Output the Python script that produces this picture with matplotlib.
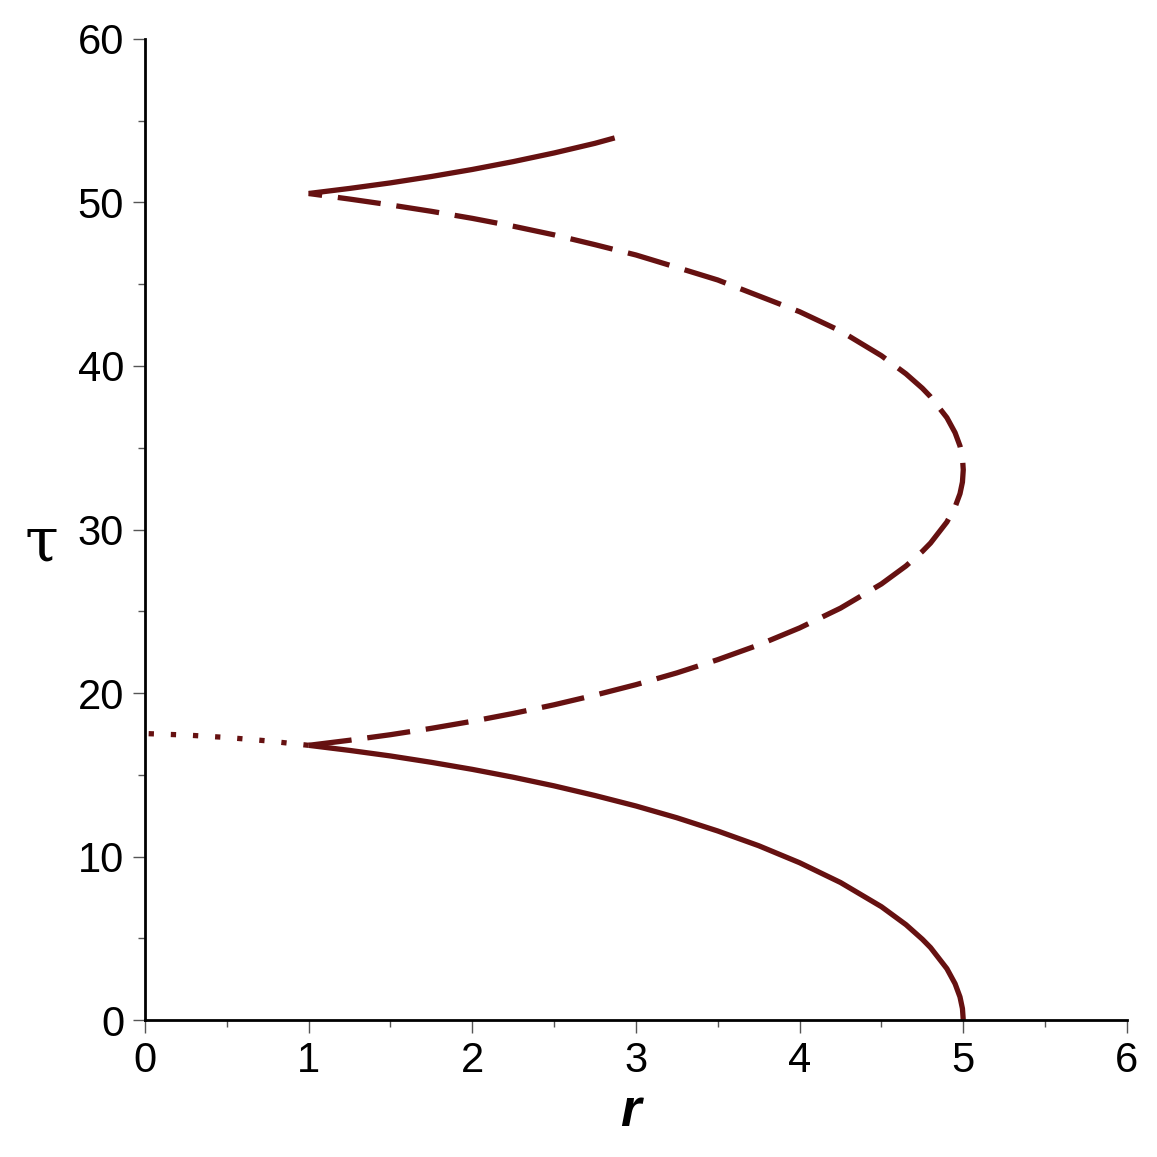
import matplotlib.pyplot as plt
import numpy as np

plt.rcParams['font.family'] = ['Liberation Sans', 'DejaVu Sans']

# infall from r=5 (solid)
r_fall = [5.0, 4.995, 4.98, 4.95, 4.9, 4.8, 4.75, 4.65, 4.5, 4.25, 4.0, 3.75, 3.5,
          3.25, 3.0, 2.75, 2.5, 2.25, 2.0, 1.75, 1.5, 1.25, 1.0]
tau_fall = [0.0, 0.70, 1.41, 2.22, 3.14, 4.43, 4.94, 5.83, 6.93, 8.41, 9.62, 10.66, 11.56,
            12.37, 13.09, 13.73, 14.32, 14.85, 15.33, 15.76, 16.15, 16.49, 16.80]

# continuation to r=0 (dotted)
r_dot = [1.0, 0.75, 0.5, 0.25, 0.0]
tau_dot = [16.80, 17.07, 17.28, 17.43, 17.52]

# bounce branch (dashed)
r_bounce = [1.0, 1.25, 1.5, 1.75, 2.0, 2.25, 2.5, 2.75, 3.0, 3.25, 3.5, 3.75, 4.0, 4.25,
            4.5, 4.65, 4.75, 4.8, 4.9, 4.95, 4.98, 4.995, 5.0,
            4.995, 4.98, 4.95, 4.9, 4.8, 4.75, 4.65, 4.5, 4.25, 4.0, 3.75, 3.5, 3.25,
            3.0, 2.75, 2.5, 2.25, 2.0, 1.75, 1.5, 1.25, 1.0]
tau_bounce = [16.80, 17.11, 17.45, 17.84, 18.27, 18.75, 19.28, 19.87, 20.51, 21.23, 22.04,
              22.94, 23.98, 25.19, 26.67, 27.77, 28.66, 29.17, 30.46, 31.38, 32.19, 32.90, 33.65,
              34.40, 35.11, 35.92, 36.84, 38.12, 38.64, 39.52, 40.63, 42.14, 43.32, 44.29,
              45.26, 46.03, 46.79, 47.42, 48.02, 48.55, 49.03, 49.46, 49.85, 50.21, 50.55]

# outgoing piece after second cusp (solid)
r_out = [1.0, 1.25, 1.5, 1.75, 2.0, 2.25, 2.5, 2.75, 2.87]
tau_out = [50.55, 50.86, 51.20, 51.59, 52.02, 52.50, 53.03, 53.62, 53.95]

col = '#661111'
lw = 3.8

fig = plt.figure(figsize=(11.57, 11.57), dpi=100)
ax = fig.add_axes([0.1253, 0.1184, 0.8487, 0.8479])

ax.plot(r_fall, tau_fall, color=col, lw=lw, solid_capstyle='butt', solid_joinstyle='round')
ax.plot(r_dot, tau_dot, color=col, lw=lw, dashes=(1, 3.2), dash_capstyle='butt')
ax.plot(r_bounce, tau_bounce, color=col, lw=lw, dashes=(8.2, 3.0), dash_capstyle='butt')
ax.plot(r_out, tau_out, color=col, lw=lw, solid_capstyle='butt')

ax.set_xlim(0, 6)
ax.set_ylim(0, 60)
ax.set_xticks(range(0, 7))
ax.set_yticks(range(0, 61, 10))
ax.set_xticks(np.arange(0.5, 6, 1), minor=True)
ax.set_yticks(np.arange(5, 60, 10), minor=True)

for s in ['top', 'right']:
    ax.spines[s].set_visible(False)
for s in ['left', 'bottom']:
    ax.spines[s].set_linewidth(2)
    ax.spines[s].set_color('black')

ax.tick_params(which='major', length=9, width=1, color='#555555', labelsize=30, pad=6)
ax.tick_params(which='minor', length=5, width=1, color='#555555')

ax.set_xlabel('r', fontsize=38, fontweight='bold', style='italic', va='center')
ax.xaxis.set_label_coords(0.494, -0.094)
ax.set_ylabel('τ', fontsize=44, rotation=0, family='DejaVu Serif', va='center', ha='center')
ax.yaxis.set_label_coords(-0.105, 0.484)

fig.savefig('out.png', dpi=100)
